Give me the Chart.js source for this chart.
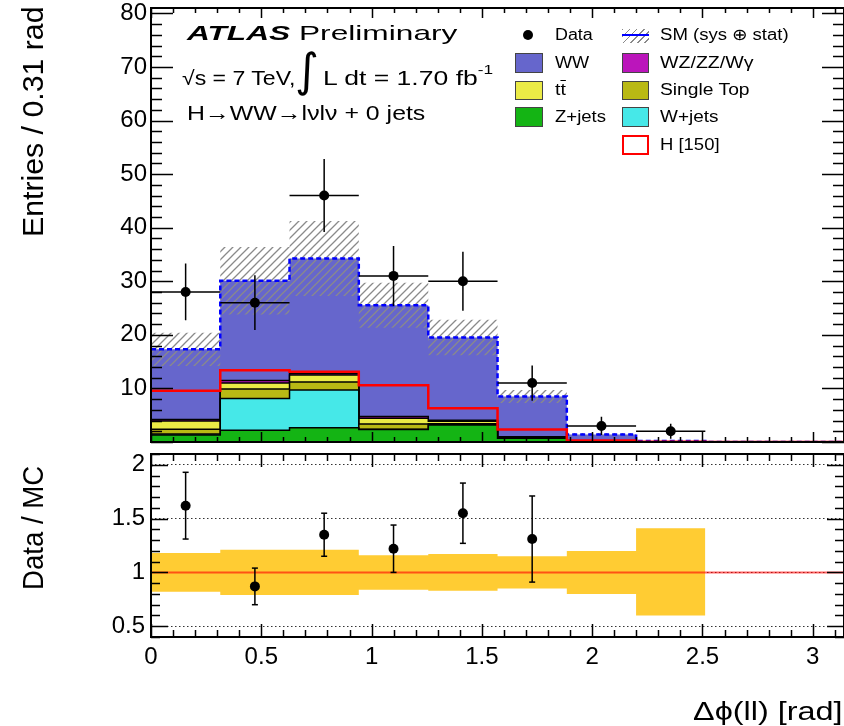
<!DOCTYPE html>
<html>
<head>
<meta charset="utf-8">
<title>Δϕ(ll) — H→WW→lνlν + 0 jets</title>
<script src="https://cdn.jsdelivr.net/npm/chart.js@4.4.1/dist/chart.umd.min.js"></script>
<style>
  html, body { margin: 0; background: #fff; }
  #wrap { position: relative; width: 844px; height: 726px; overflow: hidden;
          font-family: "Liberation Sans", Arial, Helvetica, sans-serif; color: #000; }
  #wrap canvas { position: absolute; left: 0; }
  .t { position: absolute; white-space: nowrap; line-height: 1; transform-origin: 0 0; }
  .lg { position: absolute; white-space: nowrap; font-size: 16px; line-height: 20px; height: 20px; transform-origin: 0 0; }
  .box { position: absolute; box-sizing: border-box; border: 1.5px solid #444; }
</style>
</head>
<body>
<div id="wrap">
  <canvas id="mainChart" width="844" height="460" style="top:0"></canvas>
  <canvas id="ratioChart" width="844" height="286" style="top:440px"></canvas>

  <!-- labels -->
  <div class="t" data-w="270" style="left:187px;top:22px;font-size:21px"><b><i>ATLAS</i></b> Preliminary</div>
  <div class="t" data-w="113" style="left:182px;top:68px;font-size:20px">√s = 7 TeV,</div>
  <div class="t" style="left:295px;top:47px;font-size:46px;font-family:'DejaVu Sans'">∫</div>
  <div class="t" data-w="170" style="left:323px;top:68px;font-size:20px">L dt = 1.70 fb<span style="position:relative;top:-11px;font-size:13px">-1</span></div>
  <div class="t" data-w="238" style="left:187px;top:102px;font-size:21px">H→WW→lνlν + 0 jets</div>

  <!-- legend -->
  <div style="position:absolute;left:523px;top:30px;width:10px;height:10px;border-radius:50%;background:#000"></div>
  <div class="lg" data-w="38" style="left:555px;top:25px">Data</div>
  <div class="box" style="left:515px;top:53px;width:28px;height:20px;background:#6666cc"></div>
  <div class="lg" data-w="34" style="left:555px;top:53px">WW</div>
  <div class="box" style="left:515px;top:81px;width:28px;height:19px;background:#ebeb46"></div>
  <div class="lg" data-w="11" style="left:555px;top:80px">t<span style="text-decoration:overline">t</span></div>
  <div class="box" style="left:515px;top:107px;width:28px;height:20px;background:#14b414"></div>
  <div class="lg" data-w="51" style="left:555px;top:107px">Z+jets</div>

  <div style="position:absolute;left:622px;top:29px;width:27px;height:14px;background:repeating-linear-gradient(135deg,#8a8a8a 0 1.3px,transparent 1.3px 5px)"></div>
  <div style="position:absolute;left:622px;top:34px;width:27px;height:2px;background:#0000ff"></div>
  <div class="lg" data-w="129" style="left:660px;top:25px">SM (sys ⊕ stat)</div>
  <div class="box" style="left:622px;top:53px;width:27px;height:20px;background:#bb15bb"></div>
  <div class="lg" data-w="93" style="left:660px;top:53px">WZ/ZZ/Wγ</div>
  <div class="box" style="left:622px;top:81px;width:27px;height:19px;background:#b9b914"></div>
  <div class="lg" data-w="89" style="left:660px;top:80px">Single Top</div>
  <div class="box" style="left:622px;top:107px;width:27px;height:20px;background:#46e8e8"></div>
  <div class="lg" data-w="58" style="left:660px;top:107px">W+jets</div>
  <div class="box" style="left:622px;top:135px;width:27px;height:20px;background:#fff;border:2px solid #ff0000"></div>
  <div class="lg" data-w="60" style="left:660px;top:135px">H [150]</div>

  <!-- axis titles -->
  <div class="t" data-w="230" data-rot="1" style="left:18px;top:237px;font-size:30px">Entries / 0.31 rad</div>
  <div class="t" data-w="124" data-rot="1" style="left:18px;top:590px;font-size:30px">Data / MC</div>
  <div class="t" data-w="149" style="left:693px;top:699px;font-size:25px">Δϕ(ll) [rad]</div>
</div>

<script>
// ===== binning (rad) =====
const binEdges = [0, 0.314, 0.628, 0.942, 1.257, 1.571, 1.885, 2.199, 2.513, 2.827, 3.1416];

// ===== MC stack, entries per bin =====
const zJets     = [1.3, 2.2, 2.65, 2.35, 3.15, 0.7, 0.1, 0, 0, 0];
const wJets     = [0.2, 5.9, 7.05, 0.05, 0.05, 0, 0, 0, 0, 0];
const singleTop = [0.9, 1.8, 1.5, 0.95, 0.2, 0.1, 0.02, 0, 0, 0];
const ttbar     = [1.5, 1.1, 1.3, 1.1, 0.45, 0.1, 0.02, 0, 0, 0];
const dibosons  = [0.3, 0.5, 0.3, 0.3, 0.2, 0.1, 0.01, 0, 0, 0];
const ww        = [13.1, 18.6, 21.45, 20.75, 15.45, 7.5, 1.25, 0.2, 0, 0];
const smErr     = [3.1, 6.3, 7.0, 4.2, 3.3, 1.2, 0.3, 0.1, 0, 0];
const higgs150  = [9.55, 13.4, 13.1, 10.6, 6.3, 2.35, 0.3, 0.05, 0.02, 0.02];

// ===== data =====
const dataCounts = [28, 26, 46, 31, 30, 11, 3, 2];
const dataErr    = [5.3, 5.1, 6.8, 5.6, 5.5, 3.3, 1.7, 1.4];

// ===== ratio panel =====
const ratioVals = [1.62, 0.87, 1.35, 1.22, 1.55, 1.31];
const ratioErr  = [0.31, 0.17, 0.20, 0.22, 0.28, 0.40];
const bandHi    = [1.18, 1.21, 1.21, 1.16, 1.17, 1.15, 1.20, 1.41];
const bandLo    = [0.82, 0.79, 0.79, 0.84, 0.83, 0.85, 0.80, 0.60];

// ===== tick labels =====
const mainYTicks  = [10, 20, 30, 40, 50, 60, 70, 80];
const ratioYTicks = [0.5, 1, 1.5, 2];
const xTicks      = [0, 0.5, 1, 1.5, 2, 2.5, 3];

const FONT = "'Liberation Sans', Arial, Helvetica, sans-serif";
const centers = binEdges.slice(0, -1).map((e, i) => (e + binEdges[i + 1]) / 2);

// histogram as stepped line: one point per left edge + closing point
function steps(vals) {
    return binEdges.slice(0, vals.length + 1)
        .map((x, i) => ({ x, y: vals[Math.min(i, vals.length - 1)] }));
}

function hatchPattern() {
    const c = document.createElement('canvas');
    c.width = 8; c.height = 8;
    const g = c.getContext('2d');
    g.strokeStyle = '#8a8a8a';
    g.lineWidth = 1.3;
    g.beginPath();
    g.moveTo(0, 8); g.lineTo(8, 0);
    g.moveTo(-2, 2); g.lineTo(2, -2);
    g.moveTo(6, 10); g.lineTo(10, 6);
    g.stroke();
    return g.createPattern(c, 'repeat');
}

// frame + inward ROOT-style ticks
function frameTicks(spec) {
    return {
        id: 'frame_' + spec.name,
        afterDatasetsDraw(chart) {
            const { ctx, chartArea: a } = chart;
            const xs = chart.scales.x, ys = chart.scales.y;
            ctx.save();
            ctx.strokeStyle = '#000';
            ctx.lineWidth = 1.5;
            ctx.beginPath();
            for (let i = 0; i * 0.1 <= xs.max + 1e-9; i++) {
                const px = Math.round(xs.getPixelForValue(i * 0.1)) + 0.5;
                const len = i % 5 === 0 ? spec.xMajor : spec.xMinor;
                ctx.moveTo(px, a.bottom); ctx.lineTo(px, a.bottom - len);
                ctx.moveTo(px, a.top); ctx.lineTo(px, a.top + len);
            }
            const n0 = Math.ceil(ys.min / spec.yStep - 1e-9);
            const n1 = Math.floor(ys.max / spec.yStep + 1e-9);
            for (let n = n0; n <= n1; n++) {
                const py = Math.round(ys.getPixelForValue(n * spec.yStep)) + 0.5;
                const len = n % spec.yMajorEvery === 0 ? spec.yMajor : spec.yMinor;
                ctx.moveTo(a.left, py); ctx.lineTo(a.left + len, py);
                ctx.moveTo(a.right, py); ctx.lineTo(a.right - len, py);
            }
            ctx.stroke();
            ctx.lineWidth = 2;
            ctx.strokeRect(a.left, a.top, a.right - a.left, a.bottom - a.top);
            ctx.restore();
        }
    };
}

const plainLabel = v => String(v);

// ===== main panel datasets =====
const stackOrder = [   // bottom -> top
    { name: 'Z+jets',     vals: zJets,     color: '#14b414' },
    { name: 'W+jets',     vals: wJets,     color: '#46e8e8' },
    { name: 'Single Top', vals: singleTop, color: '#b9b914' },
    { name: 'tt',         vals: ttbar,     color: '#ebeb46' },
    { name: 'WZ/ZZ/Wγ',   vals: dibosons,  color: '#bb15bb' },
    { name: 'WW',         vals: ww,        color: '#6666cc' }
];
let running = binEdges.slice(0, -1).map(() => 0);
const stackSets = stackOrder.map(s => {
    running = running.map((r, i) => r + s.vals[i]);
    return {
        label: s.name, data: steps(running), stepped: true, fill: 'origin',
        backgroundColor: s.color,
        borderColor: s.name === 'WW' ? 'rgba(0,0,0,0)' : '#000',
        borderWidth: 1.5, pointRadius: 0
    };
});
const smTotal = running;

const dataErrPts = [];
dataCounts.forEach((v, i) => {
    const c = centers[i];
    dataErrPts.push({ x: c, y: v - dataErr[i] }, { x: c, y: v + dataErr[i] }, { x: c, y: null },
                    { x: binEdges[i], y: v }, { x: binEdges[i + 1], y: v }, { x: binEdges[i + 1], y: null });
});

const hatch = hatchPattern();
const mainSets = [
    { label: 'Data', data: dataCounts.map((v, i) => ({ x: centers[i], y: v })), showLine: false,
      pointRadius: 5, pointBackgroundColor: '#000', pointBorderColor: '#000', pointBorderWidth: 0 },
    { label: 'Data err', data: dataErrPts, borderColor: '#000', borderWidth: 1.5, pointRadius: 0, spanGaps: false },
    { label: 'H [150]', data: steps(higgs150), stepped: true, borderColor: '#ff0000', borderWidth: 2.5, pointRadius: 0, fill: false },
    { label: 'SM', data: steps(smTotal), stepped: true, borderColor: '#0000ff', borderWidth: 2.5,
      borderDash: [5, 3], pointRadius: 0, fill: false },
    { label: 'SM up', data: steps(smTotal.map((v, i) => v + smErr[i])), stepped: true, fill: '+1',
      backgroundColor: hatch, borderColor: 'rgba(0,0,0,0)', borderWidth: 0, pointRadius: 0 },
    { label: 'SM down', data: steps(smTotal.map((v, i) => Math.max(0, v - smErr[i]))), stepped: true, fill: false,
      borderColor: 'rgba(0,0,0,0)', borderWidth: 0, pointRadius: 0 },
    ...stackSets
];

new Chart(document.getElementById('mainChart'), {
    type: 'line',
    data: { datasets: mainSets },
    options: {
        responsive: false, animation: false, events: [],
        layout: { autoPadding: false, padding: { top: 8, bottom: 18, left: 0, right: 0 } },
        plugins: { legend: { display: false }, tooltip: { enabled: false } },
        scales: {
            x: { type: 'linear', min: 0, max: binEdges[binEdges.length - 1], display: false },
            y: {
                min: 0, max: 81,
                afterBuildTicks: s => { s.ticks = mainYTicks.map(v => ({ value: v })); },
                afterFit: s => { s.width = 151; s.paddingTop = 0; s.paddingBottom = 0; },
                ticks: { font: { family: FONT, size: 24 }, color: '#000', padding: 4, callback: plainLabel },
                grid: { display: false, drawTicks: false },
                border: { display: false }
            }
        }
    },
    plugins: [frameTicks({ name: 'main', yStep: 2, yMajorEvery: 5, yMajor: 22, yMinor: 11, xMajor: 10, xMinor: 5 })]
});

// ===== ratio panel datasets =====
const ratioBars = [], ratioCaps = [];
ratioVals.forEach((v, i) => {
    const c = centers[i];
    ratioBars.push({ x: c, y: v - ratioErr[i] }, { x: c, y: v + ratioErr[i] }, { x: c, y: null });
    ratioCaps.push({ x: c, y: v - ratioErr[i] }, { x: c, y: v + ratioErr[i] });
});

new Chart(document.getElementById('ratioChart'), {
    type: 'line',
    data: {
        datasets: [
            { label: 'Data/MC', data: ratioVals.map((v, i) => ({ x: centers[i], y: v })), showLine: false,
              pointRadius: 5, pointBackgroundColor: '#000', pointBorderColor: '#000', pointBorderWidth: 0 },
            { label: 'caps', data: ratioCaps, showLine: false, pointStyle: 'line', pointRadius: 3,
              pointBorderColor: '#000', pointBorderWidth: 1.5 },
            { label: 'bars', data: ratioBars, borderColor: '#000', borderWidth: 1.5, pointRadius: 0, spanGaps: false },
            { label: 'unity', data: [{ x: binEdges[0], y: 1 }, { x: binEdges[binEdges.length - 1], y: 1 }],
              borderColor: 'rgba(255,0,0,0.6)', borderWidth: 2, pointRadius: 0, fill: false },
            { label: 'band hi', data: steps(bandHi), stepped: true, fill: '+1', backgroundColor: '#ffcc33',
              borderColor: 'rgba(0,0,0,0)', borderWidth: 0, pointRadius: 0 },
            { label: 'band lo', data: steps(bandLo), stepped: true, fill: false,
              borderColor: 'rgba(0,0,0,0)', borderWidth: 0, pointRadius: 0 }
        ]
    },
    options: {
        responsive: false, animation: false, events: [],
        layout: { autoPadding: false, padding: { top: 14, bottom: 0, left: 0, right: 0 } },
        plugins: { legend: { display: false }, tooltip: { enabled: false } },
        scales: {
            x: {
                type: 'linear', min: 0, max: binEdges[binEdges.length - 1],
                afterBuildTicks: s => { s.ticks = xTicks.map(v => ({ value: v })); },
                afterFit: s => { s.height = 89; s.paddingLeft = 0; s.paddingRight = 0; },
                ticks: { font: { family: FONT, size: 24 }, color: '#000', padding: 6, autoSkip: false,
                         maxRotation: 0, callback: plainLabel },
                grid: { display: false, drawTicks: false },
                border: { display: false }
            },
            y: {
                min: 0.4, max: 2.1,
                afterBuildTicks: s => { s.ticks = ratioYTicks.map(v => ({ value: v })); },
                afterFit: s => { s.width = 151; s.paddingTop = 0; s.paddingBottom = 0; },
                ticks: { font: { family: FONT, size: 24 }, color: '#000', padding: 6, callback: plainLabel },
                grid: { display: true, drawTicks: false, color: '#333', lineWidth: 1 },
                border: { display: false, dash: [1.5, 2.5] }
            }
        }
    },
    plugins: [frameTicks({ name: 'ratio', yStep: 0.1, yMajorEvery: 5, yMajor: 17, yMinor: 9, xMajor: 13, xMinor: 7 })]
});

// ===== stretch text to the widths measured on the reference =====
document.querySelectorAll('[data-w]').forEach(el => {
    const k = +el.dataset.w / el.offsetWidth;
    el.style.transform = (el.dataset.rot ? 'rotate(-90deg) ' : '') + 'scaleX(' + k.toFixed(3) + ')';
});
</script>
</body>
</html>
